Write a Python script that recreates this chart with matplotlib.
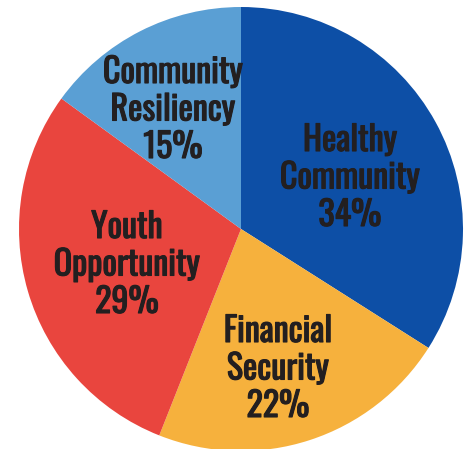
import matplotlib
matplotlib.use("Agg")
import matplotlib.pyplot as plt
import matplotlib.patheffects as pe

# Data
categories = ["Healthy\nCommunity", "Financial\nSecurity", "Youth\nOpportunity", "Community\nResiliency"]
values = [34, 22, 29, 15]
colors = ["#0D4FA6", "#F6B13D", "#E9453E", "#5A9FD4"]

W, H = 473, 449
fig = plt.figure(figsize=(W / 100, H / 100), dpi=100)
ax = fig.add_axes([0, 0, 1, 1])

cx, cy_px, R = 241, 229, 222
cy = H - cy_px

ax.pie(values, colors=colors, startangle=90, counterclock=False,
       center=(cx, cy), radius=R, wedgeprops=dict(linewidth=0))

ax.set_xlim(0, W)
ax.set_ylim(0, H)
ax.set_aspect("equal", adjustable="box")
ax.axis("off")

# label centre positions (pixels, from top-left) for first line
label_pos = [(350, 140), (278, 331), (127, 227), (173, 72)]
line_gap = 37.5
txt_color = "#231F20"
font = dict(family=["Oswald", "DejaVu Sans"], weight="bold",
            size=24.5, color=txt_color, ha="center", va="center",
            path_effects=[pe.withStroke(linewidth=0.8, foreground=txt_color)])

for cat, val, (lx, ly) in zip(categories, values, label_pos):
    lines = cat.split("\n") + [f"{val}%"]
    for i, t in enumerate(lines):
        ax.text(lx, H - (ly + i * line_gap), t, **font)

fig.savefig("out.png", dpi=100)
